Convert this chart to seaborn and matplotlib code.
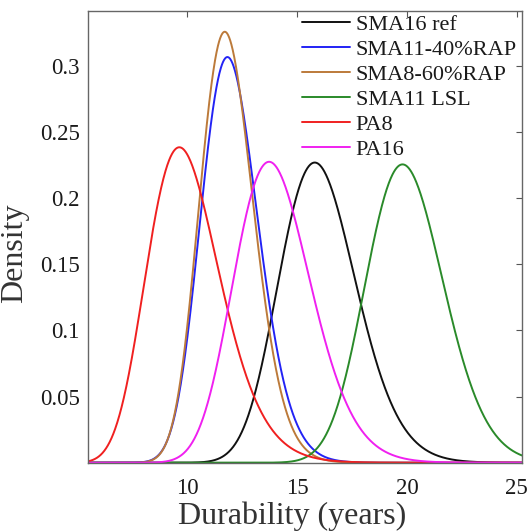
import numpy as np
import pandas as pd
import matplotlib
matplotlib.use("Agg")
import matplotlib.pyplot as plt
import seaborn as sns

# ---- data: fitted lognormal durability distributions (log-mean, log-sd) ----
series = ["SMA16 ref", "SMA11-40%RAP", "SMA8-60%RAP", "SMA11 LSL", "PA8", "PA16"]
log_mu = [2.7722, 2.4818, 2.4704, 2.9935, 2.2942, 2.6349]
log_sigma = [0.1106, 0.1094, 0.1041, 0.0890, 0.1712, 0.1268]
x_range = [5.47, 25.24]
x_ticks = [10, 15, 20, 25]
y_ticks = [0.05, 0.1, 0.15, 0.2, 0.25, 0.3]
y_max = 0.3417

colors = {"SMA16 ref": "#111111", "SMA11-40%RAP": "#2323F5",
          "SMA8-60%RAP": "#BC7A3A", "SMA11 LSL": "#2A8A2A",
          "PA8": "#F02020", "PA16": "#F020F0"}

xs = np.linspace(x_range[0], x_range[1], 1200)
frames = []
for name, m, s in zip(series, log_mu, log_sigma):
    dens = np.exp(-(np.log(xs) - m) ** 2 / (2 * s ** 2)) / (xs * s * np.sqrt(2 * np.pi))
    frames.append(pd.DataFrame({"Durability": xs, "Density": dens, "series": name}))
df = pd.concat(frames, ignore_index=True)

sns.set_theme(style="white")
plt.rcParams["font.family"] = ["Liberation Serif", "DejaVu Serif"]
plt.rcParams["mathtext.fontset"] = "stix"

fig = plt.figure(figsize=(5.29, 5.32), dpi=100)
ax = fig.add_axes([88 / 529, 1 - 462.7 / 532, (522 - 88) / 529, (462.7 - 10.7) / 532])

sns.lineplot(data=df, x="Durability", y="Density", hue="series", hue_order=series,
             palette=colors, linewidth=1.4, ax=ax, sort=False, estimator=None)

ax.set_xlim(*x_range)
ax.set_ylim(0, y_max)
ax.set_xticks(x_ticks)
ax.set_yticks(y_ticks)
ax.set_yticklabels([f"{v:g}" for v in y_ticks])
ax.tick_params(direction="in", length=4, width=0.8, top=True, right=True,
               labelsize=16.5, colors="#555555", labelcolor="#1a1a1a")
ax.tick_params(axis="x", pad=11)
ax.tick_params(axis="y", pad=6)
for sp in ax.spines.values():
    sp.set_visible(True)
    sp.set_color("#666666")
    sp.set_linewidth(1.0)

ax.set_xlabel("Durability (years)", fontsize=23, color="#333333")
ax.set_ylabel("Density", fontsize=23, color="#333333")
ax.xaxis.set_label_coords(0.471, -0.085)
ax.yaxis.set_label_coords(-0.136, 0.464)

leg = ax.legend(loc="upper right", frameon=False, fontsize=16, handlelength=2.15,
                handletextpad=0.25, labelspacing=0.2, borderaxespad=0.1,
                bbox_to_anchor=(1.0138, 1.017))
for t in leg.get_texts():
    t.set_color("#1a1a1a")

fig.savefig("out.png", dpi=100)
